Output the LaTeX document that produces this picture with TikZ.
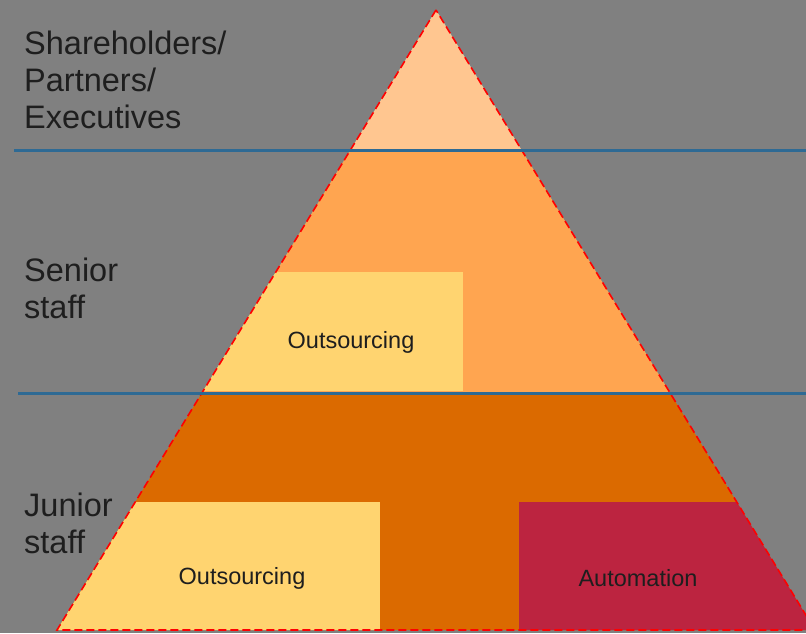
\documentclass[tikz,border=0pt]{standalone}
\usepackage{fontspec}
\setmainfont{Liberation Sans}
\definecolor{bg}{HTML}{808080}
\definecolor{tierA}{HTML}{FFC690}
\definecolor{tierB}{HTML}{FFA550}
\definecolor{tierC}{HTML}{DB6A00}
\definecolor{boxY}{HTML}{FFD470}
\definecolor{boxR}{HTML}{BC2440}
\definecolor{sep}{HTML}{2E6A94}
\definecolor{txt}{HTML}{1E1E1E}
\begin{document}
\begin{tikzpicture}[x=1pt,y=-1pt,
  lab/.style={anchor=north west,align=left,text=txt,font=\fontsize{32.5}{37}\selectfont,inner sep=0pt},
  boxlab/.style={text=txt,font=\fontsize{23.5}{27}\selectfont,inner sep=0pt},
  sepline/.style={draw=sep,line width=3pt},
  outline/.style={draw=red,line width=1.6pt,dash pattern=on 8pt off 4pt}]
\useasboundingbox (0,0) rectangle (806,633);
\fill[bg] (0,0) rectangle (806,633);
\coordinate (apex) at (436,10);
\coordinate (bl) at (57,630);
\coordinate (br) at (815,630);
\begin{scope}
  \clip (0,0) rectangle (806,633);
  \begin{scope}
    \clip (apex) -- (bl) -- (br) -- cycle;
    \fill[tierA] (0,0) rectangle (806,150);
    \fill[tierB] (0,150) rectangle (806,393);
    \fill[tierC] (0,393) rectangle (806,633);
    \fill[boxY] (0,272) rectangle (463,391);
    \fill[boxY] (0,502) rectangle (380,633);
    \fill[boxR] (519,502) rectangle (806,633);
  \end{scope}
  \draw[outline] (apex) -- (bl) -- (br) -- cycle;
\end{scope}
\coordinate (s1a) at (14,150);
\coordinate (s1b) at (806,150);
\coordinate (s2a) at (18,393);
\coordinate (s2b) at (806,393);
\draw[sepline] (s1a) -- (s1b);
\draw[sepline] (s2a) -- (s2b);
\node[lab] (exec) at (24,31) {Shareholders/\\Partners/\\Executives};
\node[lab] (senior) at (24,258) {Senior\\staff};
\node[lab] (junior) at (24,493) {Junior\\staff};
\node[boxlab] (out1) at (351,342) {Outsourcing};
\node[boxlab] (out2) at (242,578) {Outsourcing};
\node[boxlab] (auto) at (638,578) {Automation};
\end{tikzpicture}
\end{document}
